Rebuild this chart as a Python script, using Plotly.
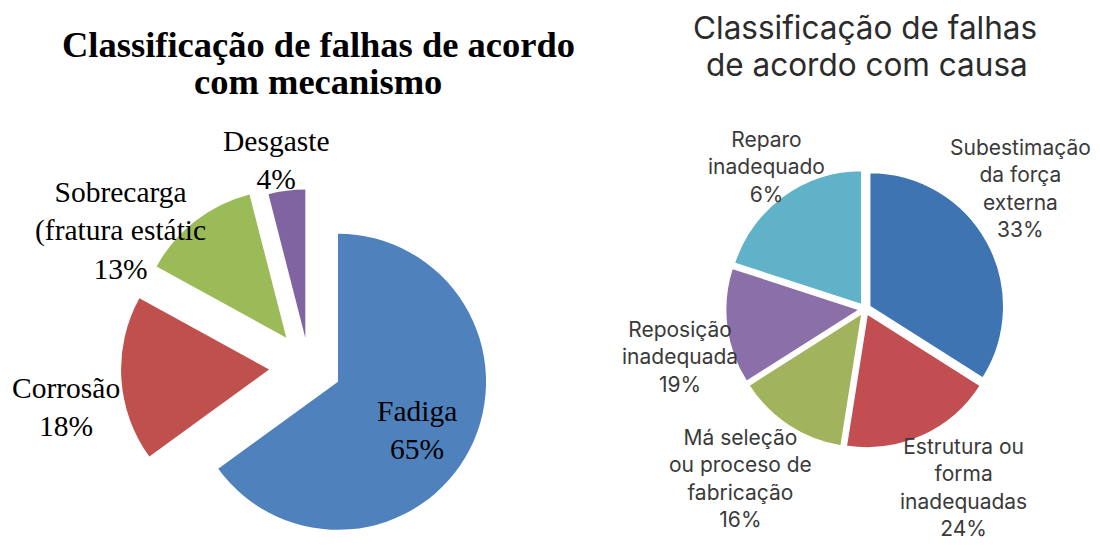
import plotly.graph_objects as go

# ---------------- data ----------------
# Left pie: classification by mechanism
mech_labels = ["Fadiga", "Corrosão", "Sobrecarga (fratura estática)", "Desgaste"]
mech_text = ["Fadiga", "Corrosão", "Sobrecarga<br>(fratura estátic", "Desgaste"]
mech_values = [65, 18, 13, 4]

# Right pie: classification by cause (slice sizes as drawn, printed percentages as labelled)
cause_labels = ["Subestimação da força externa", "Estrutura ou forma inadequadas",
                "Má seleção ou proceso de fabricação", "Reposição inadequada",
                "Reparo inadequado"]
cause_text = ["Subestimação<br>da força<br>externa", "Estrutura ou<br>forma<br>inadequadas",
              "Má seleção<br>ou proceso de<br>fabricação", "Reposição<br>inadequada",
              "Reparo<br>inadequado"]
cause_slice_values = [34, 18.5, 13.5, 14, 20]
cause_printed_pct = [33, 24, 16, 19, 6]

left_title_lines = ["Classificação de falhas de acordo", "com mecanismo"]
right_title_lines = ["Classificação de falhas", "de acordo com causa"]

# ---------------- styles / layout ----------------
W, H = 1100, 600          # figure is a bit taller than the visible window
OFF = 8                   # page body margin (screen px = figure px + OFF)
mech_colors = ["#4F81BD", "#C0504D", "#9BBB59", "#8064A2"]
cause_colors = ["#3F74B3", "#C24E52", "#A2B35E", "#8A6FA8", "#5FB2C8"]

mech_pull = [0.22, 0.27, 0.25, 0.2]
cause_pull = [0.04] * 5

# positions in screen pixels (x, y)
mech_label_pos = [(417, 430), (66, 407), (120, 230), (276, 160)]
cause_label_pos = [(1020, 188), (963, 487), (740, 478), (680, 357), (766, 167)]
left_title_pos = [(318, 45), (318, 82)]
right_title_pos = [(865, 28), (867, 65)]

# pie boxes in screen pixels: (center x, center y, half size)
mech_box = (309, 367, 188)
cause_box = (865, 309, 139.4)


def px(x, y):
    return (x - OFF) / W, 1 - (y - OFF) / H


def domain(box):
    cx, cy, h = box
    x0, y1 = px(cx - h, cy - h)
    x1, y0 = px(cx + h, cy + h)
    return dict(x=[x0, x1], y=[y0, y1])


fig = go.Figure()
fig.add_trace(go.Pie(
    labels=mech_labels, values=mech_values, sort=False, direction="clockwise",
    rotation=0, pull=mech_pull, textinfo="none", hoverinfo="label+percent",
    marker=dict(colors=mech_colors, line=dict(width=0)),
    domain=domain(mech_box),
    showlegend=False,
))
fig.add_trace(go.Pie(
    labels=cause_labels, values=cause_slice_values, sort=False, direction="clockwise",
    rotation=0, pull=cause_pull, textinfo="none", hoverinfo="label",
    marker=dict(colors=cause_colors, line=dict(width=1.5, color="white")),
    domain=domain(cause_box),
    showlegend=False,
))

annotations = []
serif = "Liberation Serif, Times New Roman, serif"
sans = "Inter, Open Sans, Liberation Sans, Arial, sans-serif"

for line, (x, y) in zip(left_title_lines, left_title_pos):
    ax, ay = px(x, y)
    annotations.append(dict(
        x=ax, y=ay, xref="paper", yref="paper", xanchor="center", yanchor="middle",
        text=f"<b>{line}</b>", showarrow=False,
        font=dict(family=serif, size=36.5, color="black"),
    ))
for line, (x, y) in zip(right_title_lines, right_title_pos):
    ax, ay = px(x, y)
    annotations.append(dict(
        x=ax, y=ay, xref="paper", yref="paper", xanchor="center", yanchor="middle",
        text=line, showarrow=False,
        font=dict(family=sans, size=31.5, color="#2b2b2b"),
    ))

for t, v, (x, y) in zip(mech_text, mech_values, mech_label_pos):
    ax, ay = px(x, y)
    annotations.append(dict(
        x=ax, y=ay, xref="paper", yref="paper", xanchor="center", yanchor="middle",
        text=f"{t}<br>{v}%", showarrow=False, align="center",
        font=dict(family=serif, size=29.5, color="black"),
    ))

for t, v, (x, y) in zip(cause_text, cause_printed_pct, cause_label_pos):
    ax, ay = px(x, y)
    annotations.append(dict(
        x=ax, y=ay, xref="paper", yref="paper", xanchor="center", yanchor="middle",
        text=f"{t}<br>{v}%", showarrow=False, align="center",
        font=dict(family=sans, size=21, color="#3a3a3a"),
    ))

fig.update_layout(
    width=W, height=H,
    margin=dict(l=0, r=0, t=0, b=0),
    paper_bgcolor="white", plot_bgcolor="white",
    annotations=annotations,
)

fig.write_html("out.html")
